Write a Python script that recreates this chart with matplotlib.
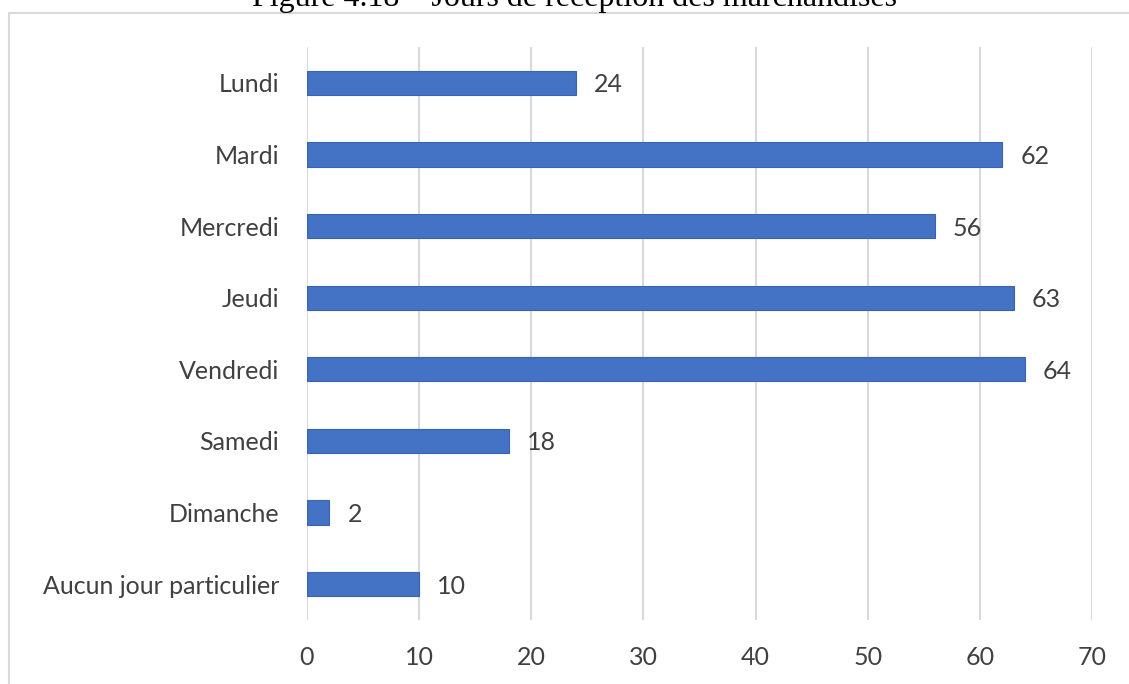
import numpy as np
import matplotlib
matplotlib.use('Agg')
import matplotlib.pyplot as plt
from matplotlib.patches import Rectangle

categories = ["Lundi", "Mardi", "Mercredi", "Jeudi", "Vendredi", "Samedi",
              "Dimanche", "Aucun jour particulier"]
values = [24, 62, 56, 63, 64, 18, 2, 10]
xticks = [0, 10, 20, 30, 40, 50, 60, 70]
title = "Figure 4.18 \u2013 Jours de r\u00e9ception des marchandises"

W, H = 1129, 684
fig = plt.figure(figsize=(W / 100, H / 100), dpi=100)
plt.rcParams['font.family'] = ['Lato', 'DejaVu Sans']
fs = 18

# cadre gris du graphique (coupé à droite et en bas)
fig.patches.append(Rectangle((9 / W, -0.1), 1.2, 1 - 13 / H + 0.1,
                             transform=fig.transFigure, fill=False,
                             edgecolor='#D9D9D9', linewidth=1.5))
fig.text(574 / W, 1 - 6 / H, title, ha='center', va='baseline',
         family='Liberation Serif', fontsize=23, color='black')

ax = fig.add_axes([307 / W, 1 - 620 / H, (1092 - 307) / W, (620 - 47) / H])
y = np.arange(len(categories))
ax.barh(y, values, height=0.34, color='#4472C4', edgecolor='#3A64B0',
        linewidth=0.8, zorder=3)
ax.set_ylim(len(categories) - 0.5, -0.5)
ax.set_xlim(0, 70)
ax.set_yticks(y)
ax.set_yticklabels(categories)
ax.set_xticks(xticks)
ax.tick_params(axis='both', length=0, labelsize=fs, colors='#404040')
ax.tick_params(axis='y', pad=20)
ax.tick_params(axis='x', pad=19)
ax.grid(axis='x', color='#D9D9D9', linewidth=1.5, zorder=0)
for s in ax.spines.values():
    s.set_visible(False)

for v, yy in zip(values, y):
    ax.annotate(str(v), (v, yy), xytext=(13, 0), textcoords='offset points',
                ha='left', va='center_baseline', fontsize=fs, color='#404040')

fig.savefig('out.png', dpi=100)
